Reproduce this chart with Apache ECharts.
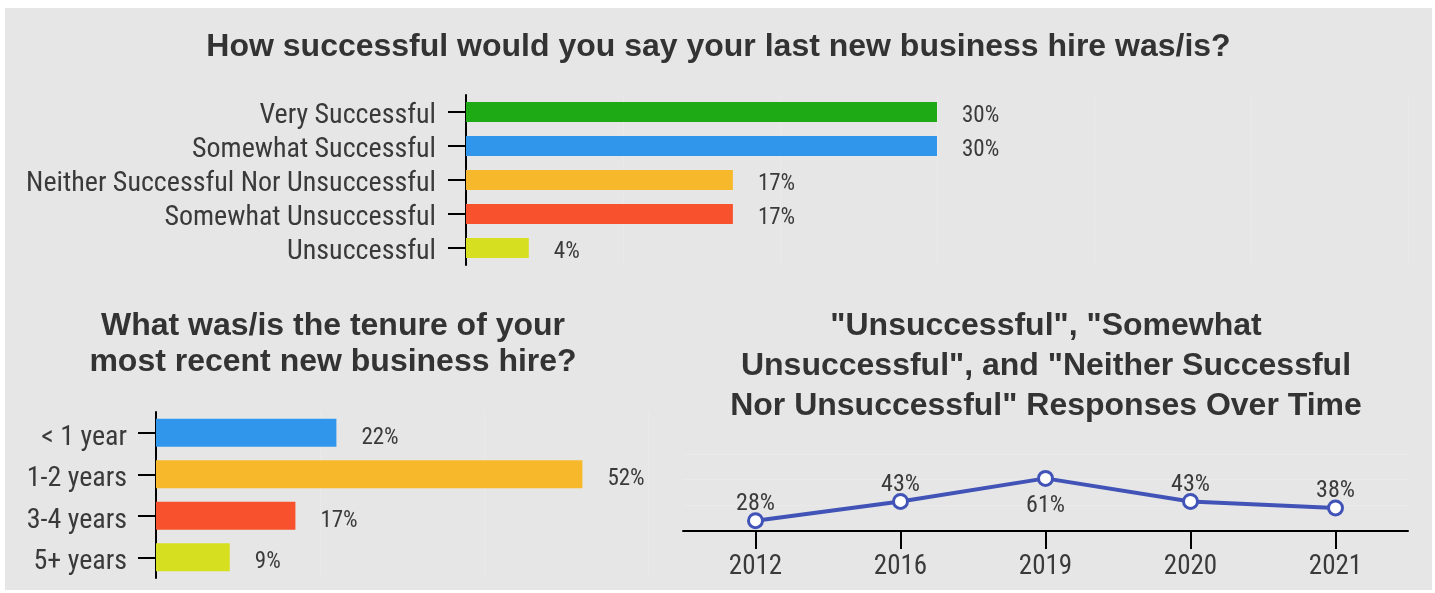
<!DOCTYPE html>
<html>
<head>
<meta charset="utf-8">
<script src="https://cdn.jsdelivr.net/npm/echarts@6/dist/echarts.min.js"></script>
<style>
  html, body { margin: 0; padding: 0; background: #ffffff; }
  #chart { position: absolute; left: 5px; top: 8px; width: 1427px; height: 582px; }
</style>
</head>
<body>
<div id="chart"></div>
<script>
// Success of the last new business hire
const successCategories = ['Very Successful', 'Somewhat Successful', 'Neither Successful Nor Unsuccessful', 'Somewhat Unsuccessful', 'Unsuccessful'];
const successValues = [30, 30, 17, 17, 4];
const successColors = ['#1eaa15', '#3096eb', '#f7b92b', '#f7522d', '#d7e020'];

// Tenure of the most recent new business hire
const tenureCategories = ['< 1 year', '1-2 years', '3-4 years', '5+ years'];
const tenureValues = [22, 52, 17, 9];
const tenureColors = ['#3096eb', '#f7b92b', '#f7522d', '#d7e020'];

// Share of unsuccessful / neutral responses by survey year
const years = ['2012', '2016', '2019', '2020', '2021'];
const unsuccessfulShare = [28, 43, 61, 43, 38];
const labelPositions = ['top', 'top', 'bottom', 'top', 'top'];

const labelFont = '"Roboto Condensed", "Liberation Sans Narrow", "Arial Narrow", Roboto, sans-serif';
const titleFont = '"Liberation Sans", Arial, sans-serif';
const textColor = '#3a3a3a';
const faintGrid = { show: true, lineStyle: { color: '#eaeaea', width: 1 } };

const chart = echarts.init(document.getElementById('chart'));

const titleStyle = { fontFamily: titleFont, fontWeight: 'bold', fontSize: 32, color: '#333333' };

const categoryAxisStyle = {
  axisLine: { show: true, lineStyle: { color: '#000000', width: 2 } },
  axisTick: { show: true, alignWithLabel: true, length: 18, lineStyle: { color: '#000000', width: 2 } },
  splitLine: { show: false }
};

// category names are nudged slightly below their tick via top padding
const lowered = (pad) => ({
  formatter: (v) => '{t|' + v + '}',
  rich: { t: { fontFamily: labelFont, fontSize: 28, color: textColor, padding: [pad, 0, 0, 0] } }
});

chart.setOption({
  backgroundColor: '#e6e6e6',
  animation: false,
  title: [
    {
      text: 'How successful would you say your last new business hire was/is?',
      left: 'center', top: 16,
      textStyle: Object.assign({}, titleStyle, { lineHeight: 36 })
    },
    {
      text: 'What was/is the tenure of your\nmost recent new business hire?',
      left: 323, top: 295, textAlign: 'center',
      textStyle: Object.assign({}, titleStyle, { lineHeight: 36 })
    },
    {
      text: '"Unsuccessful", "Somewhat\nUnsuccessful", and "Neither Successful\nNor Unsuccessful" Responses Over Time',
      left: 1036, top: 293, textAlign: 'center',
      textStyle: Object.assign({}, titleStyle, { lineHeight: 40 })
    }
  ],
  grid: [
    { left: 461, top: 87, width: 942, height: 170 },
    { left: 151, top: 404, width: 492, height: 166 },
    { left: 678, top: 446, width: 725, height: 77 }
  ],
  xAxis: [
    {
      gridIndex: 0, type: 'value', min: 0, max: 60, interval: 10,
      axisLine: { show: false }, axisTick: { show: false }, axisLabel: { show: false },
      splitLine: faintGrid
    },
    {
      gridIndex: 1, type: 'value', min: 0, max: 60, interval: 20,
      axisLine: { show: false }, axisTick: { show: false }, axisLabel: { show: false },
      splitLine: faintGrid
    },
    Object.assign({
      gridIndex: 2, type: 'category', data: years, boundaryGap: true,
      axisLabel: { interval: 0, fontFamily: labelFont, fontSize: 27, color: textColor, margin: 23 }
    }, categoryAxisStyle)
  ],
  yAxis: [
    Object.assign({
      gridIndex: 0, type: 'category', data: successCategories, inverse: true,
      axisLabel: Object.assign({ interval: 0, margin: 30 }, lowered(7))
    }, categoryAxisStyle),
    Object.assign({
      gridIndex: 1, type: 'category', data: tenureCategories, inverse: true,
      axisLabel: Object.assign({ interval: 0, margin: 29 }, lowered(10))
    }, categoryAxisStyle),
    {
      gridIndex: 2, type: 'value', min: 20, max: 80, interval: 20,
      axisLine: { show: false }, axisTick: { show: false }, axisLabel: { show: false },
      splitLine: faintGrid
    }
  ],
  series: [
    {
      type: 'bar', xAxisIndex: 0, yAxisIndex: 0, barWidth: 20,
      data: successValues.map((v, i) => ({ value: v, itemStyle: { color: successColors[i] } })),
      label: {
        show: true, position: 'right', distance: 25, formatter: '{c}%', offset: [0, 4],
        fontFamily: labelFont, fontSize: 23, color: textColor
      }
    },
    {
      type: 'bar', xAxisIndex: 1, yAxisIndex: 1, barWidth: 28,
      data: tenureValues.map((v, i) => ({ value: v, itemStyle: { color: tenureColors[i] } })),
      label: {
        show: true, position: 'right', distance: 25, formatter: '{c}%', offset: [0, 5],
        fontFamily: labelFont, fontSize: 23, color: textColor
      }
    },
    {
      type: 'line', xAxisIndex: 2, yAxisIndex: 2,
      data: unsuccessfulShare.map((v, i) => ({
        value: v,
        label: { position: labelPositions[i], distance: labelPositions[i] === 'top' ? -4 : 7 }
      })),
      symbol: 'circle', symbolSize: 14,
      lineStyle: { color: '#4253b8', width: 4 },
      itemStyle: { color: '#ffffff', borderColor: '#4253b8', borderWidth: 3 },
      label: {
        show: true, formatter: '{c}%',
        fontFamily: labelFont, fontSize: 24, color: textColor
      }
    }
  ]
});
</script>
</body>
</html>
